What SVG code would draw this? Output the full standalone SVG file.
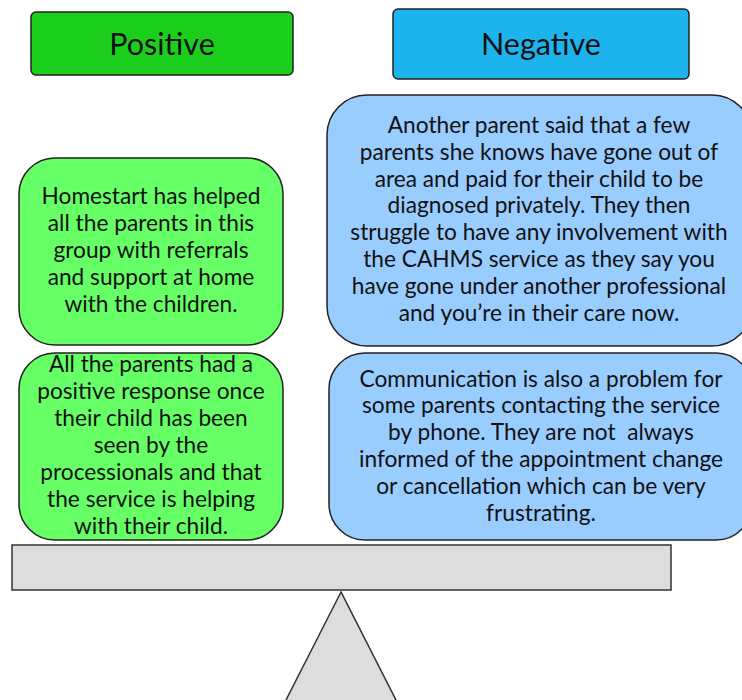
<svg xmlns="http://www.w3.org/2000/svg" width="742" height="700" viewBox="0 0 742 700">
<style>
  .box { stroke: #222; stroke-width: 1.5; }
  .head { fill: #1dcf1d; }
  .headn { fill: #1db4ed; }
  .pos { fill: #66ff66; }
  .neg { fill: #99ccff; }
  .beam { fill: #dddddd; stroke: #333; stroke-width: 1.5; }
  text { font-family: "Lato", "Liberation Sans", sans-serif; fill: #111; text-anchor: middle; white-space: pre; }
  .t { font-size: 22.7px; }
  .h { font-size: 30.5px; }
</style>
<g id="positive-header">
  <rect class="box head" x="31" y="12" width="262" height="63" rx="5"/>
  <text class="h" x="162" y="55">Positive</text>
</g>
<g id="negative-header">
  <rect class="box headn" x="393" y="9" width="296" height="70" rx="5"/>
  <text class="h" x="541" y="55">Negative</text>
</g>
<g id="pos1">
  <rect class="box pos" x="19" y="158" width="264" height="187" rx="36"/>
  <text class="t" x="151" y="204">Homestart has helped</text>
  <text class="t" x="151" y="231">all the parents in this</text>
  <text class="t" x="151" y="258">group with referrals</text>
  <text class="t" x="151" y="285">and support at home</text>
  <text class="t" x="151" y="312">with the children.</text>
</g>
<g id="neg1">
  <rect class="box neg" x="327" y="95" width="425" height="251" rx="40"/>
  <text class="t" x="539" y="133">Another parent said that a few</text>
  <text class="t" x="539" y="160">parents she knows have gone out of</text>
  <text class="t" x="539" y="187">area and paid for their child to be</text>
  <text class="t" x="539" y="213">diagnosed privately. They then</text>
  <text class="t" x="539" y="240">struggle to have any involvement with</text>
  <text class="t" x="539" y="267">the CAHMS service as they say you</text>
  <text class="t" x="539" y="294">have gone under another professional</text>
  <text class="t" x="539" y="321">and you’re in their care now.</text>
</g>
<g id="pos2">
  <rect class="box pos" x="19" y="353" width="264" height="187" rx="36"/>
  <text class="t" x="151" y="372">All the parents had a</text>
  <text class="t" x="151" y="399">positive response once</text>
  <text class="t" x="151" y="426">their child has been</text>
  <text class="t" x="151" y="453">seen by the</text>
  <text class="t" x="151" y="480">processionals and that</text>
  <text class="t" x="151" y="507">the service is helping</text>
  <text class="t" x="151" y="534">with their child.</text>
</g>
<g id="neg2">
  <rect class="box neg" x="329" y="353" width="423" height="187" rx="36"/>
  <text class="t" x="541" y="387">Communication is also a problem for</text>
  <text class="t" x="541" y="413">some parents contacting the service</text>
  <text class="t" x="541" y="440">by phone. They are not  always</text>
  <text class="t" x="541" y="467">informed of the appointment change</text>
  <text class="t" x="541" y="494">or cancellation which can be very</text>
  <text class="t" x="541" y="521">frustrating.</text>
</g>
<g id="beam">
  <rect class="beam" x="12" y="545" width="659" height="45"/>
</g>
<g id="fulcrum">
  <polygon class="beam" points="341,592 285,702 397,702"/>
</g>
<g id="connectors"></g>
</svg>
